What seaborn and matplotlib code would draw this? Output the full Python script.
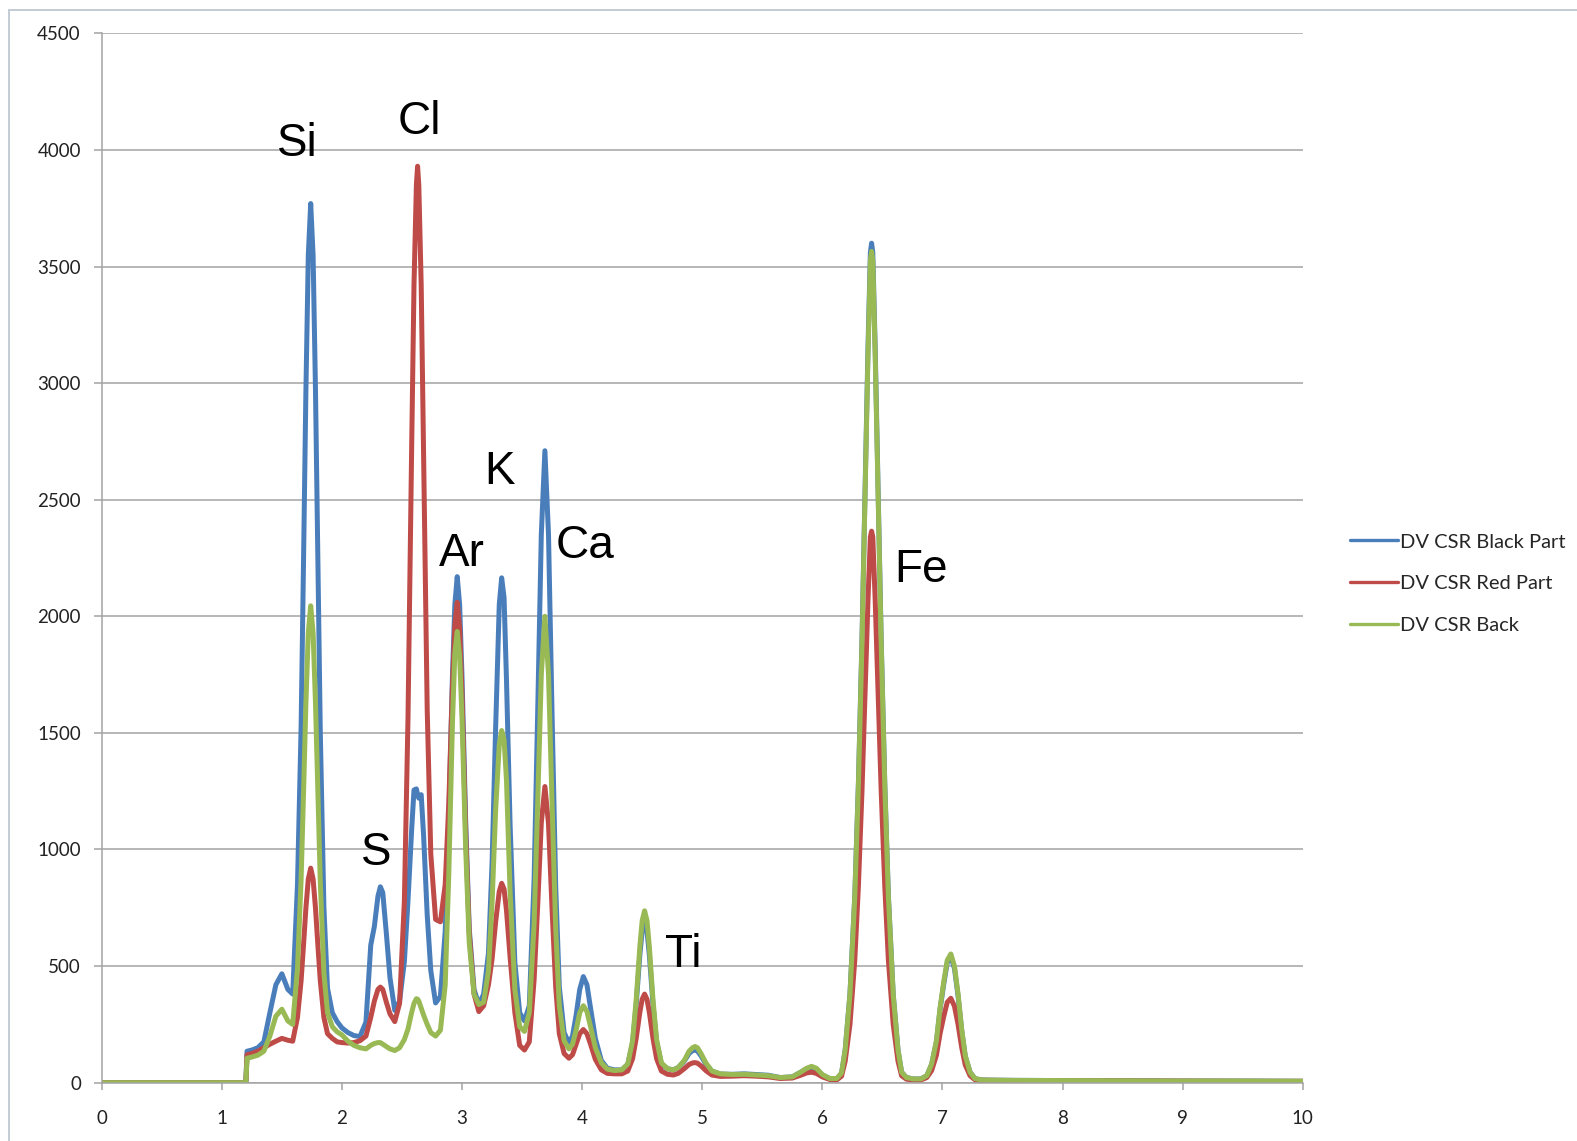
import pandas as pd
import seaborn as sns
import matplotlib.pyplot as plt
from matplotlib.lines import Line2D

# energy in keV, shared by the three spectra
energy_kev = [0.00, 1.20, 1.21, 1.25, 1.30, 1.35, 1.40, 1.45, 1.50, 1.55, 1.59,
              1.63, 1.66, 1.68, 1.70, 1.72, 1.74, 1.76, 1.78, 1.80, 1.82, 1.85,
              1.88, 1.92, 1.96, 2.00, 2.05, 2.10, 2.15, 2.20, 2.24, 2.27, 2.30,
              2.32, 2.34, 2.37, 2.40, 2.44, 2.48, 2.52, 2.55, 2.58, 2.60, 2.62,
              2.63, 2.64, 2.66, 2.68, 2.71, 2.74, 2.78, 2.82, 2.86, 2.89, 2.92,
              2.94, 2.96, 2.98, 3.00, 3.03, 3.06, 3.10, 3.14, 3.18, 3.22, 3.25,
              3.28, 3.31, 3.33, 3.35, 3.37, 3.40, 3.44, 3.48, 3.52, 3.56, 3.60,
              3.63, 3.66, 3.69, 3.72, 3.75, 3.78, 3.81, 3.85, 3.89, 3.92, 3.95,
              3.98, 4.01, 4.04, 4.07, 4.11, 4.16, 4.21, 4.27, 4.33, 4.38, 4.42,
              4.45, 4.48, 4.50, 4.52, 4.54, 4.56, 4.59, 4.62, 4.66, 4.71, 4.76,
              4.80, 4.85, 4.89, 4.92, 4.94, 4.96, 4.99, 5.03, 5.08, 5.15, 5.25,
              5.35, 5.45, 5.55, 5.65, 5.75, 5.82, 5.87, 5.91, 5.95, 6.00, 6.06,
              6.12, 6.16, 6.19, 6.23, 6.27, 6.30, 6.33, 6.36, 6.38, 6.40, 6.41,
              6.42, 6.44, 6.46, 6.49, 6.52, 6.55, 6.59, 6.63, 6.66, 6.70, 6.76,
              6.82, 6.87, 6.91, 6.95, 6.98, 7.01, 7.04, 7.07, 7.10, 7.13, 7.16,
              7.19, 7.23, 7.27, 7.32, 7.40, 7.60, 8.00, 8.50, 9.00, 9.50, 10.00]

black_part = [0, 0, 135, 140, 150, 175, 300, 420, 467, 400, 380,
              850, 1520, 2225, 2965, 3548, 3770, 3548, 2965, 2225, 1500, 750,
              405, 300, 262, 235, 215, 202, 198, 260, 590, 670, 800,
              840, 815, 640, 450, 310, 350, 520, 780, 1080, 1255, 1260,
              1235, 1220, 1235, 1060, 720, 480, 342, 370, 650, 1133, 1740,
              2050, 2170, 2050, 1740, 1130, 660, 400, 335, 380, 555, 940,
              1525, 2050, 2165, 2080, 1730, 1110, 515, 300, 265, 330, 870,
              1590, 2350, 2710, 2350, 1570, 840, 410, 215, 170, 200, 290,
              400, 455, 420, 320, 190, 95, 62, 55, 55, 78, 172,
              335, 545, 650, 690, 650, 545, 335, 175, 80, 60, 55,
              65, 92, 125, 138, 141, 136, 115, 80, 50, 37, 36,
              38, 35, 32, 22, 25, 45, 60, 66, 58, 33, 18,
              16, 40, 140, 380, 800, 1280, 1900, 2650, 3150, 3560, 3600,
              3560, 3150, 2650, 1900, 1280, 800, 380, 140, 45, 22, 16,
              16, 30, 78, 176, 313, 420, 515, 540, 490, 372, 225,
              113, 45, 18, 12, 11, 10, 9, 8, 7, 7, 6]

red_part = [0, 0, 120, 125, 135, 150, 165, 178, 190, 182, 178,
            280, 437, 588, 748, 873, 920, 873, 748, 588, 437, 280,
            210, 190, 175, 172, 170, 172, 180, 200, 280, 350, 400,
            410, 400, 345, 295, 262, 340, 780, 1560, 2700, 3420, 3850,
            3930, 3850, 3420, 2700, 1600, 980, 700, 690, 850, 1200, 1700,
            1960, 2060, 1950, 1660, 1080, 640, 380, 305, 330, 420, 530,
            690, 820, 855, 830, 740, 540, 300, 160, 140, 175, 440,
            760, 1115, 1270, 1110, 740, 410, 210, 125, 105, 120, 165,
            210, 228, 210, 165, 100, 55, 40, 38, 38, 50, 103,
            190, 300, 358, 380, 358, 300, 190, 103, 50, 36, 33,
            40, 60, 78, 85, 86, 84, 72, 52, 33, 27, 28,
            30, 28, 25, 18, 20, 32, 42, 45, 40, 25, 14,
            12, 28, 92, 250, 525, 840, 1250, 1740, 2070, 2340, 2365,
            2340, 2070, 1740, 1250, 840, 525, 250, 92, 30, 15, 12,
            12, 22, 52, 118, 210, 282, 345, 362, 328, 250, 152,
            76, 30, 13, 10, 10, 9, 8, 8, 7, 6, 6]

back = [0, 0, 105, 110, 118, 135, 200, 285, 315, 265, 250,
        490, 870, 1237, 1626, 1929, 2045, 1929, 1626, 1237, 860, 470,
        300, 240, 218, 205, 178, 160, 150, 145, 160, 168, 172,
        172, 165, 155, 145, 138, 150, 185, 230, 300, 340, 360,
        358, 350, 320, 290, 250, 215, 200, 225, 420, 900, 1540,
        1840, 1935, 1830, 1560, 1010, 600, 380, 335, 345, 480, 770,
        1170, 1450, 1510, 1470, 1300, 820, 400, 240, 220, 300, 680,
        1200, 1750, 2000, 1750, 1190, 660, 330, 180, 145, 165, 225,
        300, 330, 305, 240, 150, 85, 58, 52, 55, 80, 180,
        355, 580, 695, 737, 695, 580, 355, 185, 85, 60, 55,
        65, 95, 135, 150, 155, 150, 125, 85, 50, 38, 35,
        36, 33, 30, 22, 25, 45, 62, 70, 62, 35, 18,
        18, 42, 140, 378, 795, 1270, 1885, 2625, 3120, 3525, 3565,
        3525, 3120, 2625, 1885, 1270, 795, 378, 140, 45, 22, 16,
        16, 30, 80, 180, 320, 430, 525, 552, 500, 380, 230,
        115, 45, 18, 12, 11, 10, 9, 8, 7, 7, 6]

series_names = ["DV CSR Black Part", "DV CSR Red Part", "DV CSR Back"]
series_colors = ["#4a7ebb", "#be4b48", "#98b954"]

element_labels = ["Si", "Cl", "S", "Ar", "K", "Ca", "Ti", "Fe"]
label_x = [1.632, 2.644, 2.285, 2.996, 3.31, 4.025, 4.845, 6.82]
label_y = [3974, 4070, 932, 2216, 2567, 2250, 494, 2148]

df = pd.concat([
    pd.DataFrame({"energy": energy_kev, "counts": vals, "series": name})
    for name, vals in zip(series_names, [black_part, red_part, back])
])

sns.set_style("white")
plt.rcParams['font.family'] = ['Lato', 'DejaVu Sans']

fig = plt.figure(figsize=(15.77, 11.41), dpi=100)
ax = fig.add_axes([0.0645, 0.0511, 0.7616, 0.9197])

sns.lineplot(data=df, x="energy", y="counts", hue="series", hue_order=series_names,
             palette=series_colors, estimator=None, sort=True, linewidth=3.6, ax=ax)

ax.set_xlim(0, 10)
ax.set_ylim(0, 4500)
ax.set_xticks(range(0, 11))
ax.set_yticks(range(0, 4501, 500))
ax.set_xlabel("")
ax.set_ylabel("")

grid_col = "#a3a3a3"
ax.yaxis.grid(True, color=grid_col, linewidth=1.1)
ax.xaxis.grid(False)
ax.set_axisbelow(True)
for side in ["top", "right"]:
    ax.spines[side].set_visible(False)
for side in ["left", "bottom"]:
    ax.spines[side].set_color(grid_col)
    ax.spines[side].set_linewidth(1.1)

ax.tick_params(axis="y", direction="out", length=6, width=1.1, color=grid_col,
               pad=9, labelsize=13.5, labelcolor="#222222", left=True)
ax.tick_params(axis="x", direction="out", length=5, width=1.1, color=grid_col,
               pad=15, labelsize=13.5, labelcolor="#222222", bottom=True)

for name, lx, ly in zip(element_labels, label_x, label_y):
    ax.text(lx, ly, name, ha="center", va="baseline", fontsize=33,
            family=["Liberation Sans", "DejaVu Sans"], color="black")

handles, labels = ax.get_legend_handles_labels()
for h in handles:
    h.set_linewidth(2.4)
ax.legend(handles, labels, loc="center left", bbox_to_anchor=(0.856, 0.4885),
          bbox_transform=fig.transFigure, frameon=False, fontsize=14.5,
          handlelength=2.38, handletextpad=0.12, labelspacing=1.22,
          borderpad=0, borderaxespad=0)

# light outer frame of the chart area
frame_col = "#c3ccd5"
fig.add_artist(Line2D([0.006, 0.006], [0.0, 0.991], color=frame_col, lw=1.4))
fig.add_artist(Line2D([0.006, 1.0], [0.991, 0.991], color=frame_col, lw=1.4))

fig.savefig("out.png", dpi=100)
plt.close(fig)
